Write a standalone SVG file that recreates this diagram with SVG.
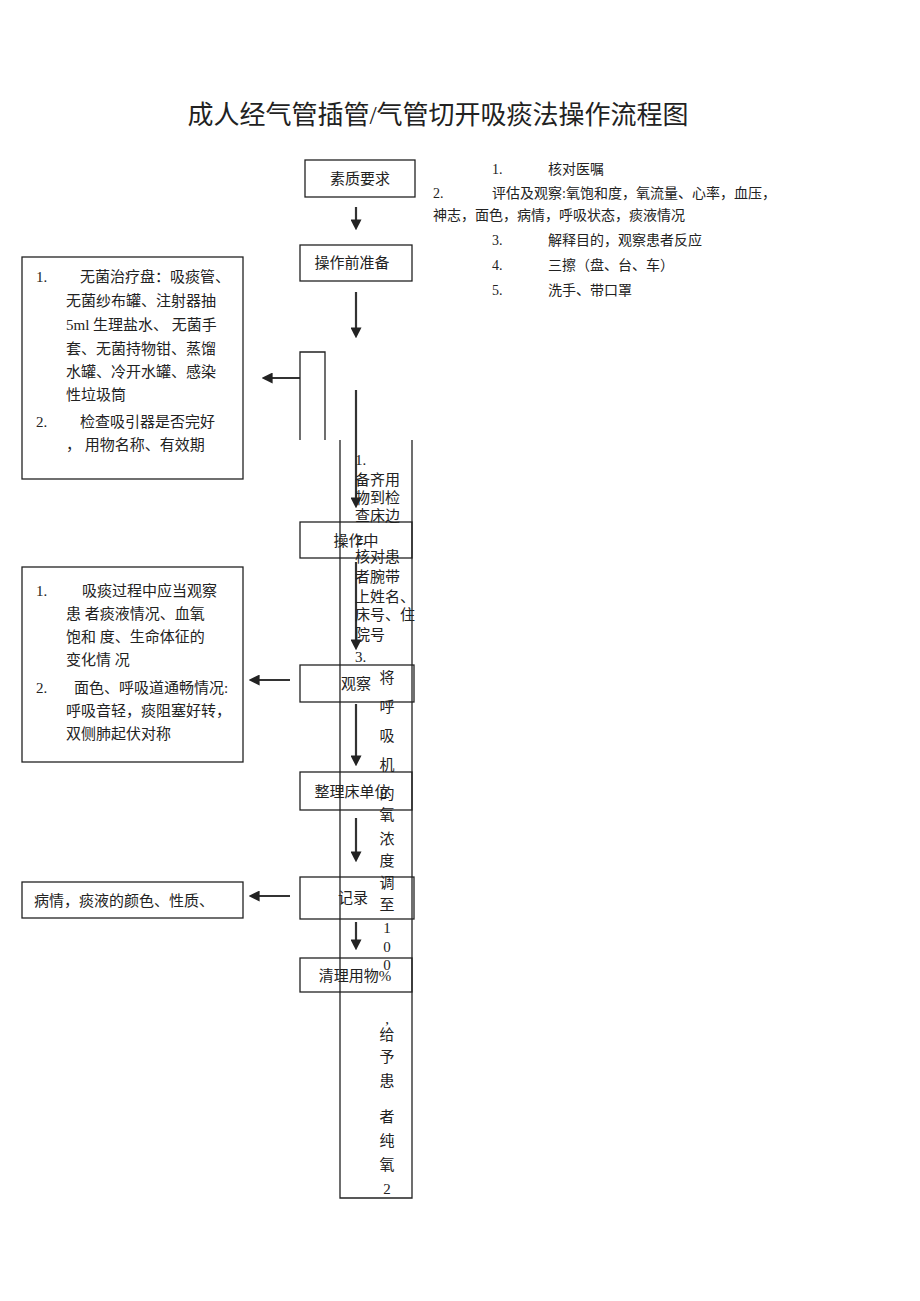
<svg xmlns="http://www.w3.org/2000/svg" width="920" height="1301" viewBox="0 0 920 1301">
<defs><marker id="ah" markerWidth="5" markerHeight="5" refX="3" refY="2.5" orient="auto"><path d="M0,0 L5,2.5 L0,5 z" fill="#222"/></marker></defs>
<style>
text{font-family:"Liberation Serif","Noto Sans CJK SC",serif;fill:#222}
.b{fill:none;stroke:#222;stroke-width:1.3}
.a{stroke:#333;stroke-width:2.2;marker-end:url(#ah)}
.t{font-size:15px}
.s{font-size:14px}
</style>
<rect width="920" height="1301" fill="#fff"/>
<text x="438" y="124" font-size="26" text-anchor="middle">成人经气管插管/气管切开吸痰法操作流程图</text>
<g id="notes" class="s">
<text x="492" y="174">1.</text><text x="548" y="174">核对医嘱</text>
<text x="433" y="198">2.</text><text x="492" y="198">评估及观察:氧饱和度，氧流量、心率，血压，</text>
<text x="433" y="220">神志，面色，病情，呼吸状态，痰液情况</text>
<text x="492" y="245">3.</text><text x="548" y="245">解释目的，观察患者反应</text>
<text x="492" y="270">4.</text><text x="548" y="270">三擦（盘、台、车）</text>
<text x="492" y="295">5.</text><text x="548" y="295">洗手、带口罩</text>
</g>
<g id="connectors">
<line class="a" x1="356" y1="207" x2="356" y2="226"/>
<line class="a" x1="356" y1="292" x2="356" y2="334"/>
<line class="a" x1="356" y1="390" x2="356" y2="504"/>
<line class="a" x1="356" y1="562" x2="356" y2="646"/>
<line class="a" x1="356" y1="704" x2="356" y2="762"/>
<line class="a" x1="356" y1="818" x2="356" y2="858"/>
<line class="a" x1="356" y1="922" x2="356" y2="946"/>
<line class="a" x1="300" y1="378" x2="266" y2="378"/>
<line class="a" x1="290" y1="680" x2="253" y2="680"/>
<line class="a" x1="290" y1="896" x2="253" y2="896"/>
</g>
<g id="n1"><rect class="b" x="305" y="160" width="110" height="37"/><text class="t" x="360" y="184" text-anchor="middle">素质要求</text></g>
<g id="n2"><rect class="b" x="300" y="245" width="112" height="36"/><text class="t" x="352" y="268" text-anchor="middle">操作前准备</text></g>
<g id="n3"><path class="b" d="M300,440 V352 H325 V440"/></g>
<g id="n4"><path class="b" d="M340,440 V1198 H412 V440"/>
<g class="t"><text x="355" y="465">1.</text><text x="355" y="485">备齐用</text><text x="355" y="503">物到检</text><text x="355" y="521">查床边</text>
<text x="355" y="545">2.</text><text x="355" y="562">核对患</text><text x="355" y="582">者腕带</text><text x="355" y="602">上姓名、</text><text x="355" y="620">床号、住</text><text x="355" y="640">院号</text><text x="355" y="662">3.</text></g>
<g class="t" text-anchor="middle"><text x="387" y="683">将</text><text x="387" y="712">呼</text><text x="387" y="741">吸</text><text x="387" y="770">机</text><text x="387" y="799">的</text><text x="387" y="820">氧</text><text x="387" y="844">浓</text><text x="387" y="866">度</text><text x="387" y="888">调</text><text x="387" y="910">至</text><text x="387" y="933">1</text><text x="387" y="952">0</text><text x="387" y="970">0</text><text x="387" y="1024">,</text><text x="387" y="1040">给</text><text x="387" y="1062">予</text><text x="387" y="1086">患</text><text x="387" y="1122">者</text><text x="387" y="1146">纯</text><text x="387" y="1170">氧</text><text x="387" y="1194">2</text></g>
</g>
<g id="n5"><rect class="b" x="300" y="522" width="112" height="36"/><text class="t" x="356" y="546" text-anchor="middle">操作中</text></g>
<g id="n6"><rect class="b" x="300" y="665" width="114" height="37"/><text class="t" x="356" y="689" text-anchor="middle">观察</text></g>
<g id="n7"><rect class="b" x="300" y="772" width="112" height="38"/><text class="t" x="352" y="797" text-anchor="middle">整理床单位</text></g>
<g id="n8"><rect class="b" x="300" y="877" width="114" height="42"/><text class="t" x="353" y="903" text-anchor="middle">记录</text></g>
<g id="n9"><rect class="b" x="300" y="958" width="112" height="34"/><text class="t" x="355" y="981" text-anchor="middle">清理用物%</text></g>
<g id="l1"><rect class="b" x="22" y="257" width="221" height="222"/>
<g class="t"><text x="36" y="282">1.</text><text x="80" y="282">无菌治疗盘：吸痰管、</text><text x="66" y="306">无菌纱布罐、注射器抽</text><text x="66" y="330">5ml  生理盐水、 无菌手</text><text x="66" y="354">套、无菌持物钳、蒸馏</text><text x="66" y="377">水罐、冷开水罐、感染</text><text x="66" y="400">性垃圾筒</text><text x="36" y="427">2.</text><text x="80" y="427">检查吸引器是否完好</text><text x="66" y="450">，  用物名称、有效期</text></g></g>
<g id="l2"><rect class="b" x="22" y="567" width="221" height="195"/>
<g class="t"><text x="36" y="596">1.</text><text x="82" y="596">吸痰过程中应当观察</text><text x="66" y="619">患  者痰液情况、血氧</text><text x="66" y="642">饱和  度、生命体征的</text><text x="66" y="665">变化情  况</text><text x="36" y="693">2.</text><text x="74" y="693">面色、呼吸道通畅情况:</text><text x="66" y="716">呼吸音轻，痰阻塞好转，</text><text x="66" y="739">双侧肺起伏对称</text></g></g>
<g id="l3"><rect class="b" x="22" y="882" width="221" height="36"/><text class="t" x="34" y="906">病情，痰液的颜色、性质、</text></g>
</svg>
